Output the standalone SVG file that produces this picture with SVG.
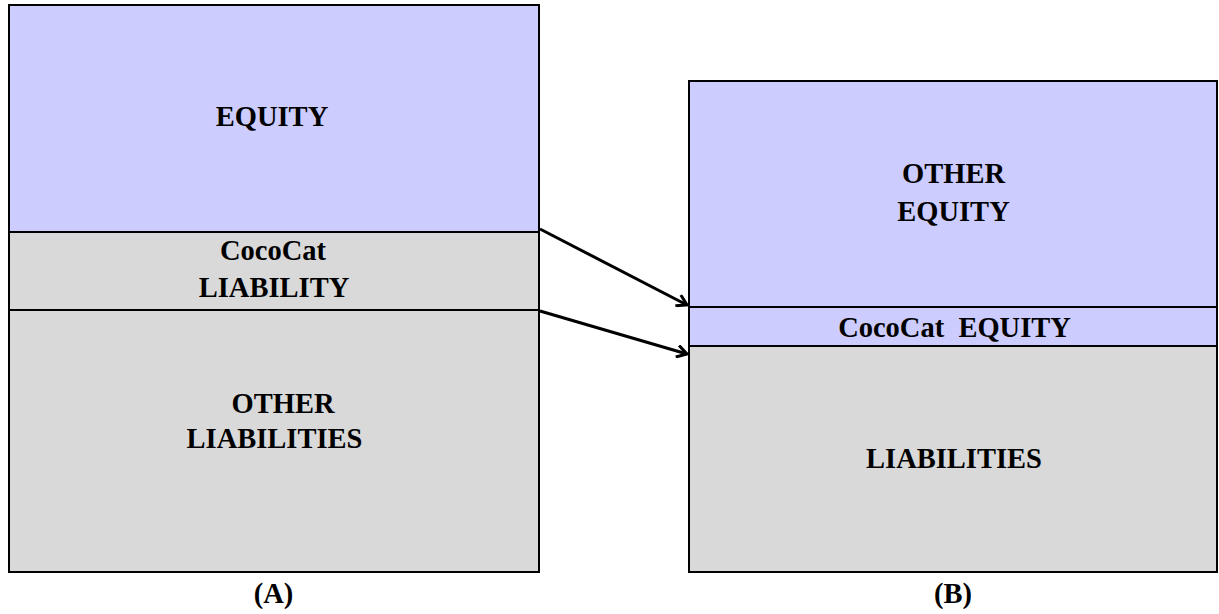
<svg xmlns="http://www.w3.org/2000/svg" width="1219" height="614" viewBox="0 0 1219 614">
<style>
.t{font-family:"Liberation Serif","Times New Roman",serif;font-weight:bold;font-size:28.5px;fill:#000;text-anchor:middle}
.b{stroke:#000;stroke-width:2;fill:none}
.blue{fill:#CCCCFF}
.gray{fill:#D9D9D9}
.c{stroke:#000;stroke-width:3;fill:none}
</style>
<defs>
<marker id="ah" markerWidth="14" markerHeight="14" refX="12" refY="7" orient="auto" markerUnits="userSpaceOnUse">
<path d="M2,1 L12,7 L2,13" fill="none" stroke="#000" stroke-width="3"/>
</marker>
</defs>
<rect width="1219" height="614" fill="#fff"/>
<g id="nodeA">
<rect class="blue" x="9" y="5" width="530" height="227"/>
<rect class="gray" x="9" y="232" width="530" height="340"/>
<line class="b" x1="9" y1="232" x2="539" y2="232"/>
<line class="b" x1="9" y1="310" x2="539" y2="310"/>
<rect class="b" x="9" y="5" width="530" height="567"/>
<text class="t" x="272" y="126">EQUITY</text>
<text class="t" x="273" y="260">CocoCat</text>
<text class="t" x="274" y="297">LIABILITY</text>
<text class="t" x="283" y="413">OTHER</text>
<text class="t" x="274.5" y="448">LIABILITIES</text>
<text class="t" x="273.5" y="603">(A)</text>
</g>
<g id="nodeB">
<rect class="blue" x="689" y="81" width="528" height="265"/>
<rect class="gray" x="689" y="346" width="528" height="226"/>
<line class="b" x1="689" y1="307" x2="1217" y2="307"/>
<line class="b" x1="689" y1="346" x2="1217" y2="346"/>
<rect class="b" x="689" y="81" width="528" height="491"/>
<text class="t" x="953.5" y="183">OTHER</text>
<text class="t" x="953.5" y="221">EQUITY</text>
<text class="t" x="954.5" y="337" xml:space="preserve">CocoCat  EQUITY</text>
<text class="t" x="954" y="468">LIABILITIES</text>
<text class="t" x="953" y="603">(B)</text>
</g>
<g id="connectors">
<line class="c" x1="540" y1="229" x2="687" y2="305" marker-end="url(#ah)"/>
<line class="c" x1="540" y1="311" x2="687" y2="354" marker-end="url(#ah)"/>
</g>
</svg>
